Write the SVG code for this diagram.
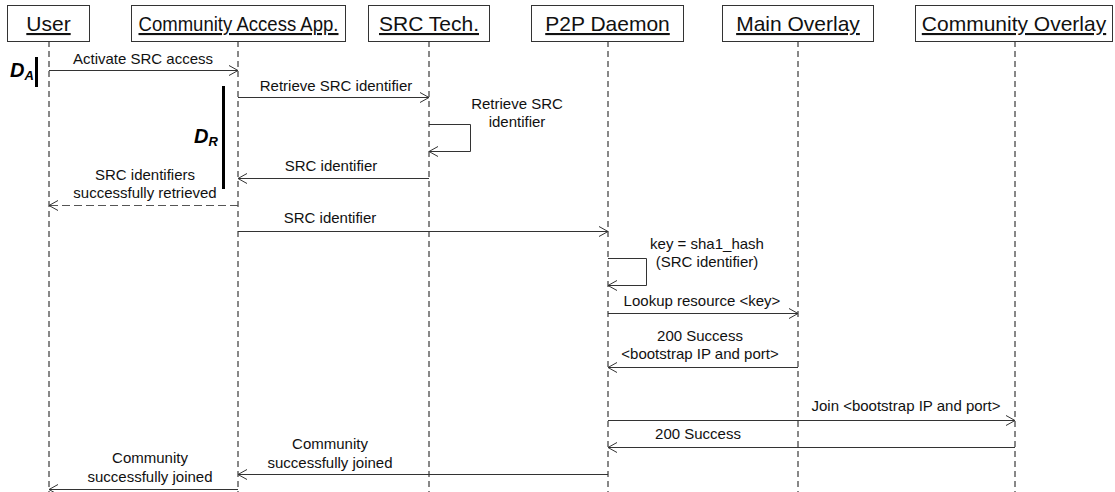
<svg xmlns="http://www.w3.org/2000/svg" width="1115" height="492" viewBox="0 0 1115 492">
<style>
.box{fill:#fff;stroke:#333;stroke-width:1}
.hdr{font-family:"Liberation Sans",Arial,sans-serif;font-size:21px;fill:#111;text-anchor:middle;text-decoration:underline}
.life{stroke:#111;stroke-width:1;stroke-dasharray:6,4;fill:none}
.msg{stroke:#333;stroke-width:1;fill:none;marker-end:url(#arr)}
.ret{stroke:#555;stroke-width:1.2;stroke-dasharray:8,4;fill:none;marker-end:url(#arr)}
.lbl{font-family:"Liberation Sans",Arial,sans-serif;font-size:15px;fill:#111;text-anchor:middle}
.dl{font-family:"Liberation Sans",Arial,sans-serif;font-weight:bold;font-style:italic;fill:#000}
.bar{stroke:#000;stroke-width:3}
</style>
<defs>
<marker id="arr" markerUnits="userSpaceOnUse" markerWidth="12" markerHeight="12" refX="10" refY="6" orient="auto" overflow="visible">
<path d="M1,1 L10,6 L1,11" fill="none" stroke="#333" stroke-width="1"/>
</marker>
</defs>
<g id="lifelines">
<line class="life" x1="49" y1="41" x2="49" y2="492"/>
<line class="life" x1="238" y1="41" x2="238" y2="492"/>
<line class="life" x1="429" y1="41" x2="429" y2="492"/>
<line class="life" x1="608" y1="41" x2="608" y2="492"/>
<line class="life" x1="798" y1="41" x2="798" y2="492"/>
<line class="life" x1="1015" y1="41" x2="1015" y2="492"/>
</g>
<g id="user"><rect class="box" x="7.5" y="5.5" width="82" height="36"/><text class="hdr" x="48.5" y="31">User</text></g>
<g id="caa"><rect class="box" x="131.5" y="5.5" width="214" height="36"/><text class="hdr" x="238.5" y="31" textLength="200" lengthAdjust="spacingAndGlyphs">Community Access App.</text></g>
<g id="src"><rect class="box" x="368.5" y="5.5" width="121" height="36"/><text class="hdr" x="429" y="31">SRC Tech.</text></g>
<g id="p2p"><rect class="box" x="531.5" y="5.5" width="152" height="36"/><text class="hdr" x="607.5" y="31">P2P Daemon</text></g>
<g id="main"><rect class="box" x="722.5" y="5.5" width="151" height="36"/><text class="hdr" x="798" y="31">Main Overlay</text></g>
<g id="comm"><rect class="box" x="915.5" y="5.5" width="197" height="36"/><text class="hdr" x="1014" y="31">Community Overlay</text></g>
<g id="durations">
<text class="dl" x="10" y="77" font-size="20">D<tspan font-size="13" dy="3">A</tspan></text>
<line class="bar" x1="36.5" y1="57" x2="36.5" y2="87"/>
<text class="dl" x="194" y="143" font-size="20">D<tspan font-size="13" dy="3">R</tspan></text>
<line class="bar" x1="223.5" y1="86" x2="223.5" y2="189"/>
</g>
<g id="connectors">
<line class="msg" x1="49" y1="70.5" x2="238" y2="70.5"/>
<line class="msg" x1="238" y1="97.5" x2="429" y2="97.5"/>
<path class="msg" d="M429,124.5 H470.5 V151.5 H429"/>
<line class="msg" x1="429" y1="178.5" x2="238" y2="178.5"/>
<line class="ret" x1="238" y1="205.5" x2="49" y2="205.5"/>
<line class="msg" x1="238" y1="231.5" x2="608" y2="231.5"/>
<path class="msg" d="M608,258.5 H646.5 V285.5 H608"/>
<line class="msg" x1="608" y1="313.5" x2="798" y2="313.5"/>
<line class="msg" x1="798" y1="367.5" x2="608" y2="367.5"/>
<line class="msg" x1="608" y1="420.5" x2="1015" y2="420.5"/>
<line class="msg" x1="1015" y1="447.5" x2="608" y2="447.5"/>
<line class="msg" x1="608" y1="474.5" x2="238" y2="474.5"/>
<line class="msg" x1="238" y1="489.5" x2="49" y2="489.5"/>
</g>
<g id="labels">
<text class="lbl" x="143" y="64">Activate SRC access</text>
<text class="lbl" x="336" y="91">Retrieve SRC identifier</text>
<text class="lbl" x="517" y="109">Retrieve SRC</text>
<text class="lbl" x="517" y="127">identifier</text>
<text class="lbl" x="331" y="171">SRC identifier</text>
<text class="lbl" x="145" y="180">SRC identifiers</text>
<text class="lbl" x="145" y="198">successfully retrieved</text>
<text class="lbl" x="330" y="223">SRC identifier</text>
<text class="lbl" x="707" y="249">key = sha1_hash</text>
<text class="lbl" x="707" y="267">(SRC identifier)</text>
<text class="lbl" x="702" y="306">Lookup resource &lt;key&gt;</text>
<text class="lbl" x="700" y="341">200 Success</text>
<text class="lbl" x="700" y="359">&lt;bootstrap IP and port&gt;</text>
<text class="lbl" x="906" y="411">Join &lt;bootstrap IP and port&gt;</text>
<text class="lbl" x="698" y="439">200 Success</text>
<text class="lbl" x="330" y="449">Community</text>
<text class="lbl" x="330" y="468">successfully joined</text>
<text class="lbl" x="150" y="463">Community</text>
<text class="lbl" x="150" y="482">successfully joined</text>
</g>
</svg>
